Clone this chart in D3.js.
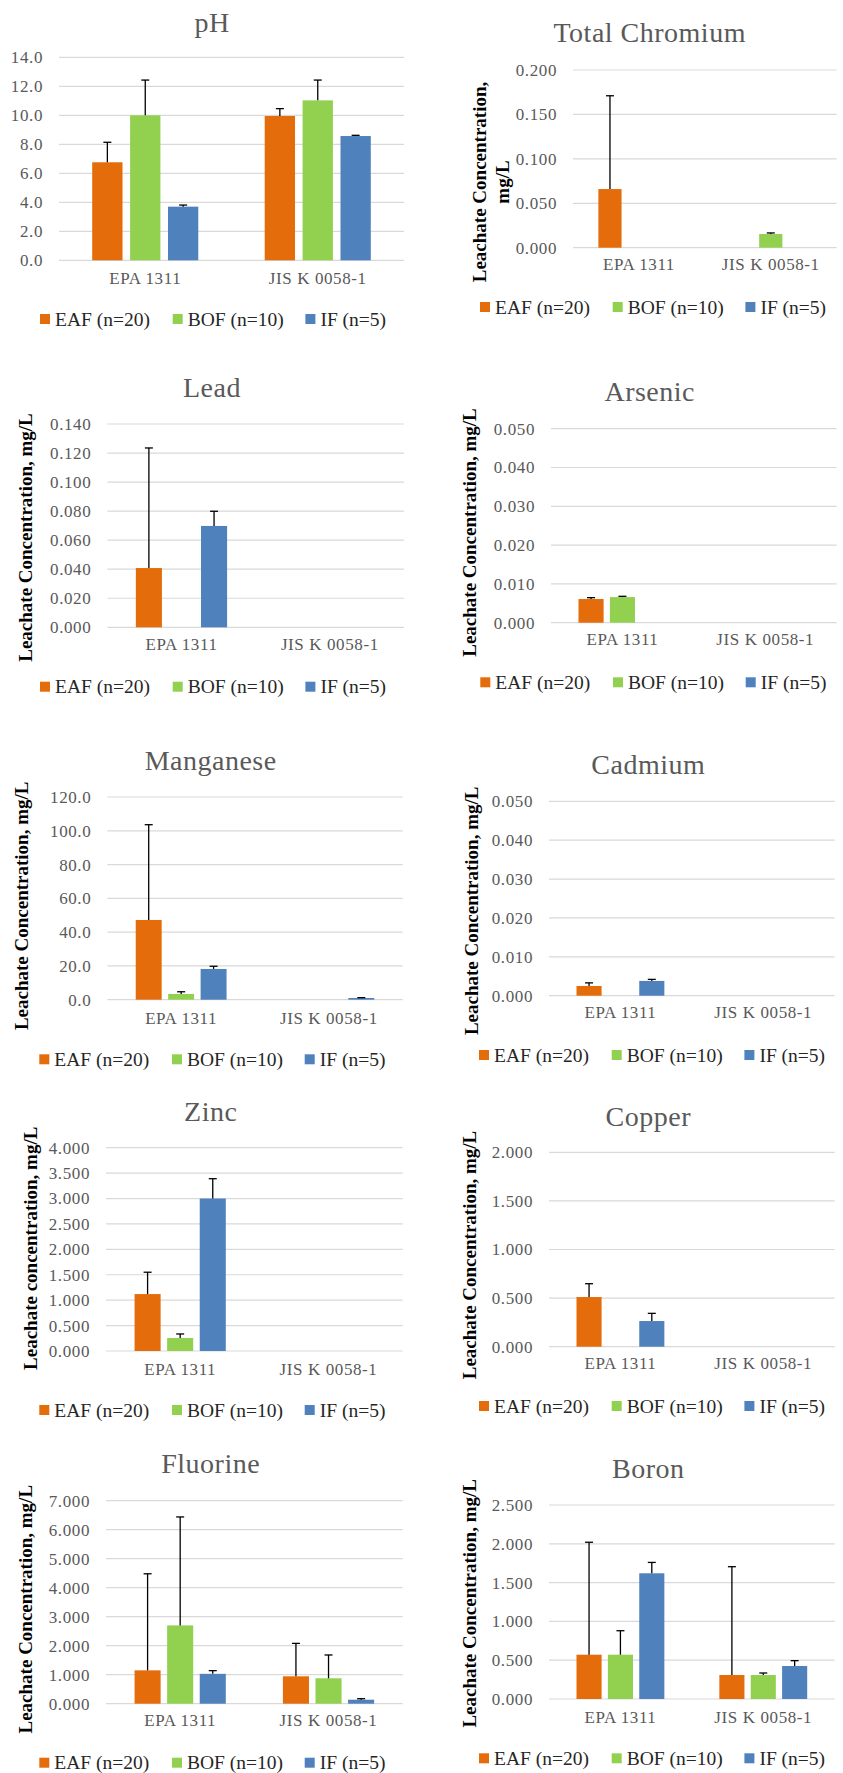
<!DOCTYPE html>
<html>
<head>
<meta charset="utf-8">
<script src="https://cdn.jsdelivr.net/npm/d3@7/dist/d3.min.js"></script>
<style>
  body { margin: 0; background: #fff; }
  svg text { font-family: "Liberation Serif", "DejaVu Serif", serif; }
</style>
</head>
<body>
<div id="chart"></div>
<script>
'use strict'

// categories and series shared by every panel
const categories = ["EPA 1311", "JIS K 0058-1"]
const seriesNames = ["EAF (n=20)", "BOF (n=10)", "IF (n=5)"]

// means and standard deviations, [category][series], null = no bar
const phMean = [[6.76, 10.0, 3.70], [9.95, 11.03, 8.57]]
const phSd   = [[1.38, 2.43, 0.11], [0.51, 1.40, 0.05]]

const crMean = [[0.066, null, null], [null, 0.0154, null]]
const crSd   = [[0.105, null, null], [null, 0.0012, null]]

const pbMean = [[0.0408, null, 0.0698], [null, null, null]]
const pbSd   = [[0.0827, null, 0.0101], [null, null, null]]

const asMean = [[0.0061, 0.0066, null], [null, null, null]]
const asSd   = [[0.00035, 0.0002, null], [null, null, null]]

const mnMean = [[47.2, 3.4, 18.2], [null, null, 1.0]]
const mnSd   = [[56.4, 1.3, 1.6], [null, null, 0.2]]

const cdMean = [[0.0025, null, 0.0038], [null, null, null]]
const cdSd   = [[0.0008, null, 0.0004], [null, null, null]]

const znMean = [[1.12, 0.256, 3.00], [null, null, null]]
const znSd   = [[0.43, 0.079, 0.39], [null, null, null]]

const cuMean = [[0.511, null, 0.264], [null, null, null]]
const cuSd   = [[0.137, null, 0.079], [null, null, null]]

const fMean = [[1.15, 2.70, 1.03], [0.945, 0.876, 0.138]]
const fSd   = [[3.33, 3.74, 0.11], [1.135, 0.804, 0.034]]

const bMean = [[0.571, 0.571, 1.62], [0.309, 0.309, 0.425]]
const bSd   = [[1.449, 0.309, 0.14], [1.396, 0.026, 0.069]]

// y axis: max and tick step per panel
const phAxis = [14, 2], crAxis = [0.2, 0.05], pbAxis = [0.14, 0.02], asAxis = [0.05, 0.01]
const mnAxis = [120, 20], cdAxis = [0.05, 0.01], znAxis = [4, 0.5], cuAxis = [2, 0.5]
const fAxis = [7, 1], bAxis = [2.5, 0.5]

const yLabel = "Leachate Concentration, mg/L"

////////////////////////////////////
//////////// svg setup /////////////
////////////////////////////////////

const svgWidth = 843, svgHeight = 1773
const serif = '"Liberation Serif", "DejaVu Serif", serif'

const svg = d3.select('#chart')
    .append('svg')
    .attr('width', svgWidth)
    .attr('height', svgHeight)
    .attr('font-family', serif)

const colorScale = d3.scaleOrdinal()
    .domain(seriesNames)
    .range(["#E46C0A", "#92D050", "#4F81BD"])

// panel layout
const panels = [
  {title: "pH", mean: phMean, sd: phSd, axis: phAxis, fmt: ".1f",
   left: 59, right: 404, top: 57.3, zero: 260.3, tx: 212, ty: 22,
   yt: null, catY: 283, legY: 319, legX: 40},
  {title: "Total Chromium", mean: crMean, sd: crSd, axis: crAxis, fmt: ".3f",
   left: 573, right: 836.7, top: 70, zero: 247.7, tx: 649.7, ty: 32,
   yt: {lines: ["Leachate Concentration,", "mg/L"], x: 479, y: 182}, catY: 269, legY: 307, legX: 480},
  {title: "Lead", mean: pbMean, sd: pbSd, axis: pbAxis, fmt: ".3f",
   left: 107.3, right: 404, top: 424, zero: 627.3, tx: 212, ty: 387,
   yt: {lines: [yLabel], x: 25, y: 537.5}, catY: 649.3, legY: 686.7, legX: 40},
  {title: "Arsenic", mean: asMean, sd: asSd, axis: asAxis, fmt: ".3f",
   left: 551, right: 836.7, top: 428.7, zero: 622.7, tx: 649.7, ty: 391.7,
   yt: {lines: [yLabel], x: 469.3, y: 532.5}, catY: 644.3, legY: 682.3, legX: 480.3},
  {title: "Manganese", mean: mnMean, sd: mnSd, axis: mnAxis, fmt: ".1f",
   left: 107.3, right: 402.7, top: 797, zero: 999.7, tx: 210.7, ty: 760,
   yt: {lines: [yLabel], x: 21.7, y: 905.8}, catY: 1022.7, legY: 1059.3, legX: 39.3},
  {title: "Cadmium", mean: cdMean, sd: cdSd, axis: cdAxis, fmt: ".3f",
   left: 549, right: 834.7, top: 801.3, zero: 995.7, tx: 648.3, ty: 764.3,
   yt: {lines: [yLabel], x: 471, y: 910.8}, catY: 1017.3, legY: 1055, legX: 479},
  {title: "Zinc", mean: znMean, sd: znSd, axis: znAxis, fmt: ".3f",
   left: 106, right: 402.7, top: 1147.7, zero: 1351, tx: 210.7, ty: 1111.7,
   yt: {lines: ["Leachate concentration, mg/L"], x: 30, y: 1248.3}, catY: 1373.7, legY: 1410, legX: 39.3},
  {title: "Copper", mean: cuMean, sd: cuSd, axis: cuAxis, fmt: ".3f",
   left: 549, right: 834.7, top: 1152.3, zero: 1346.7, tx: 648.3, ty: 1116,
   yt: {lines: [yLabel], x: 469.3, y: 1255}, catY: 1368.3, legY: 1406, legX: 479},
  {title: "Fluorine", mean: fMean, sd: fSd, axis: fAxis, fmt: ".3f",
   left: 106, right: 402.7, top: 1500.7, zero: 1703.7, tx: 210.7, ty: 1463.3,
   yt: {lines: [yLabel], x: 25, y: 1609.2}, catY: 1725, legY: 1762.7, legX: 39.3},
  {title: "Boron", mean: bMean, sd: bSd, axis: bAxis, fmt: ".3f",
   left: 549, right: 834.7, top: 1505, zero: 1699, tx: 648.3, ty: 1468.3,
   yt: {lines: [yLabel], x: 469.3, y: 1603.3}, catY: 1721.7, legY: 1758.3, legX: 479}
]

////////////////////////////////////
//////////// draw panels ///////////
////////////////////////////////////

panels.forEach(p => {

    var g = svg.append('g').attr('class', 'panel')

    var x0 = d3.scaleBand().domain(categories).range([p.left, p.right])
    var groupW = x0.bandwidth() * 0.615
    var x1 = d3.scaleBand().domain(seriesNames).range([0, groupW]).paddingInner(0.2)
    var y = d3.scaleLinear().domain([0, p.axis[0]]).range([p.zero, p.top])
    var ticks = d3.range(0, p.axis[0] + p.axis[1] / 2, p.axis[1])

    // gridlines
    g.append('g')
        .selectAll('line')
        .data(ticks)
        .join('line')
        .attr('x1', p.left).attr('x2', p.right)
        .attr('y1', d => y(d)).attr('y2', d => y(d))
        .attr('stroke', '#d9d9d9')
        .attr('stroke-width', 1.2)

    // y tick labels
    var yAxis = g.append('g')
        .attr('transform', `translate(${p.left},0)`)
        .call(d3.axisLeft(y).tickValues(ticks).tickFormat(d3.format(p.fmt)).tickSize(0).tickPadding(16))
        .attr('font-family', serif)
        .attr('font-size', 17)
    yAxis.select('.domain').remove()
    yAxis.selectAll('text')
        .attr('font-family', serif)
        .attr('letter-spacing', 0.6)
        .attr('fill', '#595959')

    // category labels
    var xAxis = g.append('g')
        .attr('transform', `translate(0,${p.catY - 11})`)
        .call(d3.axisBottom(x0).tickSize(0).tickPadding(0))
        .attr('font-family', serif)
        .attr('font-size', 17)
    xAxis.select('.domain').remove()
    xAxis.selectAll('text')
        .attr('dy', '0.71em')
        .attr('font-family', serif)
        .attr('letter-spacing', 0.6)
        .attr('fill', '#595959')

    // bars + error bars
    var rows = []
    categories.forEach((c, i) => {
        seriesNames.forEach((s, j) => {
            if (p.mean[i][j] != null) rows.push({cat: c, ser: s, v: p.mean[i][j], sd: p.sd[i][j]})
        })
    })

    var off = (x0.bandwidth() - groupW) / 2

    g.append('g')
        .selectAll('rect')
        .data(rows)
        .join('rect')
        .attr('x', d => x0(d.cat) + off + x1(d.ser))
        .attr('width', x1.bandwidth())
        .attr('y', d => y(d.v))
        .attr('height', d => y(0) - y(d.v))
        .attr('fill', d => colorScale(d.ser))

    var err = g.append('g')
        .selectAll('g')
        .data(rows)
        .join('g')
        .attr('transform', d => `translate(${x0(d.cat) + off + x1(d.ser) + x1.bandwidth() / 2},0)`)

    err.append('line')
        .attr('x1', 0).attr('x2', 0)
        .attr('y1', d => y(d.v)).attr('y2', d => y(d.v + d.sd))
        .attr('stroke', '#000').attr('stroke-width', 1.3)
    err.append('line')
        .attr('x1', -4).attr('x2', 4)
        .attr('y1', d => y(d.v + d.sd)).attr('y2', d => y(d.v + d.sd))
        .attr('stroke', '#000').attr('stroke-width', 1.3)

    // title
    g.append('text')
        .attr('x', p.tx)
        .attr('y', p.ty)
        .attr('text-anchor', 'middle')
        .attr('dominant-baseline', 'central')
        .attr('font-family', serif)
        .attr('font-size', 28)
        .attr('letter-spacing', 0.5)
        .attr('fill', '#595959')
        .text(p.title)

    // y axis title
    if (p.yt) {
        p.yt.lines.forEach((t, k) => {
            g.append('text')
                .attr('transform', `translate(${p.yt.x + k * 23},${p.yt.y}) rotate(-90)`)
                .attr('text-anchor', 'middle')
                .attr('dominant-baseline', 'central')
                .attr('font-family', serif)
                .attr('font-size', 19)
                .attr('font-weight', 700)
                .attr('fill', '#000')
                .text(t)
        })
    }

    // legend
    var leg = g.append('g')
        .selectAll('g')
        .data(seriesNames)
        .join('g')
        .attr('transform', (d, i) => `translate(${p.legX + i * 132.7},${p.legY})`)

    leg.append('rect')
        .attr('x', 0).attr('y', -5)
        .attr('width', 10).attr('height', 10)
        .attr('fill', d => colorScale(d))

    leg.append('text')
        .attr('x', 15)
        .attr('y', 0)
        .attr('dominant-baseline', 'central')
        .attr('font-family', serif)
        .attr('font-size', 19.5)
        .attr('fill', '#262626')
        .text(d => d)
})
</script>
</body>
</html>
